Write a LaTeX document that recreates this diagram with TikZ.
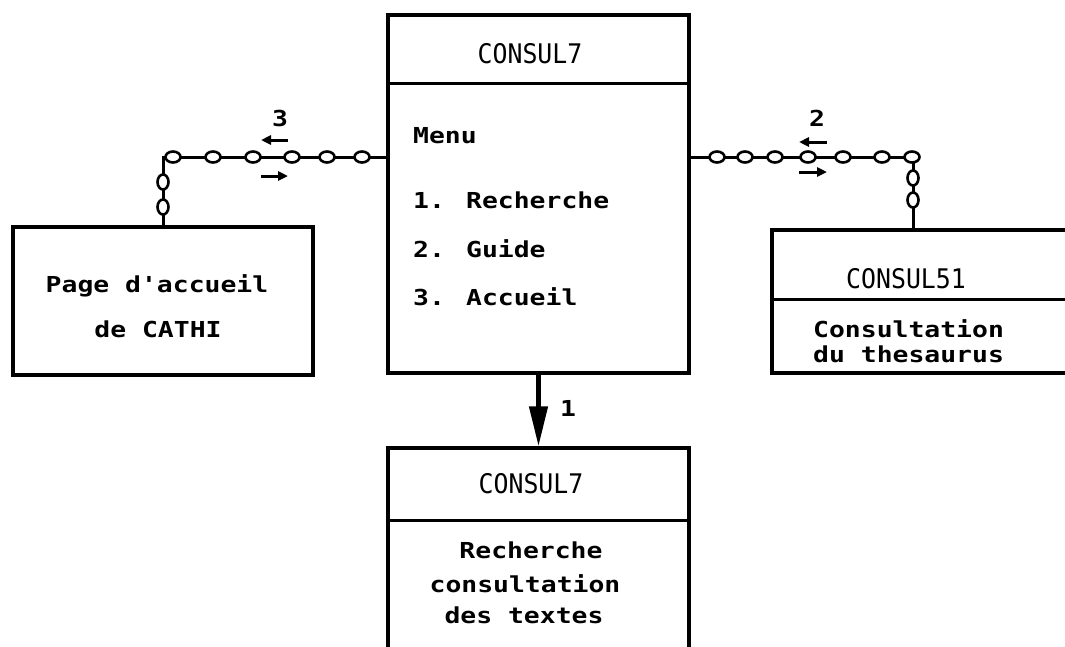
\documentclass[tikz,border=0pt]{standalone}
\usepackage{fontspec}
\newfontfamily\dotfont[FakeStretch=1.2,Ligatures=TeXOff]{DejaVu Sans Mono}
\newfontfamily\headfont[FakeStretch=0.92,Ligatures=TeXOff]{DejaVu Sans Mono}
\usetikzlibrary{arrows.meta,shapes.geometric,positioning}

\tikzset{
  box/.style={draw, line width=3.4pt, inner sep=0pt},
  rule/.style={line width=3pt},
  chainline/.style={line width=3pt},
  link/.style={ellipse, draw, line width=2.6pt, fill=white, minimum width=15pt, minimum height=11pt, inner sep=0pt},
  vlink/.style={link, minimum width=11pt, minimum height=15pt},
  txt/.style={font=\dotfont\bfseries\fontsize{22}{26}\selectfont, inner sep=0pt},
  head/.style={font=\headfont\fontsize{27}{30}\selectfont, inner sep=0pt},
  dir/.style={line width=3pt, -{Triangle[length=10pt,width=9pt]}},
}

\begin{document}
\begin{tikzpicture}[x=1pt, y=-1pt]
                \useasboundingbox (0,0) rectangle (1065,646);
                \fill[white] (0,0) rectangle (1065,646);
                \clip (0,0) rectangle (1065,646);
                % boxes
                \node[box, minimum width=301pt, minimum height=358pt] (main) at (538.5,194) {};
                \node[box, minimum width=300pt, minimum height=148pt] (acc) at (163,301) {};
                \node[box, minimum width=340pt, minimum height=143pt] (thes) at (942,301.5) {};
                \node[box, minimum width=301pt, minimum height=260pt] (cons) at (538.5,578) {};
                \draw[rule] (main.west |- 0,83) -- (main.east |- 0,83);
                \draw[rule] (thes.west |- 0,299) -- (thes.east |- 0,299);
                \draw[rule] (cons.west |- 0,520) -- (cons.east |- 0,520);
                % texts
                \node[head, anchor=base] (h1) at (530,63) {CONSUL7};
                \node[txt, anchor=base west] (m0) at (413,143) {Menu};
                \node[txt, anchor=base west] (m1) at (413,208) {1. Recherche};
                \node[txt, anchor=base west] (m2) at (413,257) {2. Guide};
                \node[txt, anchor=base west] (m3) at (413,305) {3. Accueil};
                \node[txt, anchor=base] (a1) at (157,292) {Page d'accueil};
                \node[txt, anchor=base] (a2) at (158,337) {de CATHI};
                \node[head, anchor=base] (h2) at (906,288) {CONSUL51};
                \node[txt, anchor=base west] (c1) at (813,337) {Consultation};
                \node[txt, anchor=base west] (c2) at (813,362) {du thesaurus};
                \node[head, anchor=base] (h3) at (531,493) {CONSUL7};
                \node[txt, anchor=base] (b1) at (531,558) {Recherche};
                \node[txt, anchor=base] (b2) at (525,592) {consultation};
                \node[txt, anchor=base] (b3) at (524,623) {des textes};
                % chains
                \coordinate (lb) at (163,157);
                \draw[chainline] (main.west |- lb) -- (lb) -- (lb |- acc.north);
                \foreach \x [count=\i] in {173,213,253,292,327,362}
                {
                \node[link] (ll\i) at (\x,157) {};
                }
                \foreach \y [count=\i] in {182,207}
                {
                \node[vlink] (lv\i) at (163,\y) {};
                }
                \coordinate (rb) at (913,157);
                \draw[chainline] (main.east |- rb) -- (rb) -- (rb |- thes.north);
                \foreach \x [count=\i] in {717,745,775,808,843,882,912}
                {
                \node[link] (rl\i) at (\x,157) {};
                }
                \foreach \y [count=\i] in {178,200}
                {
                \node[vlink] (rv\i) at (913,\y) {};
                }
                % labels and arrows
                \node[txt] (n3) at (280,118) {3};
                \draw[dir] (288,140) -- (261,140);
                \draw[dir] (261,176) -- (288,176);
                \node[txt] (n2) at (817,118) {2};
                \draw[dir] (827,142) -- (799,142);
                \draw[dir] (799,172) -- (827,172);
                \draw[line width=4.5pt, -{Triangle[length=40pt,width=18pt]}] (main.south) -- (cons.north);
                \node[txt] (n1) at (568,408) {1};
            \end{tikzpicture}
\end{document}
